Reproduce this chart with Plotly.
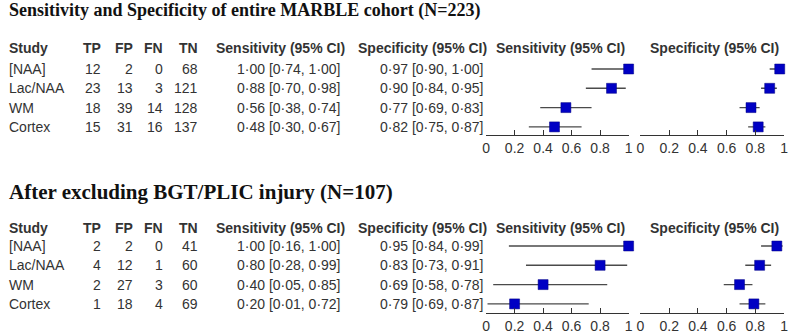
import plotly.graph_objects as go

# ---------------- data ----------------
studies = ["[NAA]", "Lac/NAA", "WM", "Cortex"]

titles = ["Sensitivity and Specificity of entire MARBLE cohort (N=223)",
          "After excluding BGT/PLIC injury (N=107)"]

# Panel 1: entire cohort
tp1 = [12, 23, 18, 15]
fp1 = [2, 13, 39, 31]
fn1 = [0, 3, 14, 16]
tn1 = [68, 121, 128, 137]
sens1 = [1.00, 0.88, 0.56, 0.48]
sens1_lo = [0.74, 0.70, 0.38, 0.30]
sens1_hi = [1.00, 0.98, 0.74, 0.67]
spec1 = [0.97, 0.90, 0.77, 0.82]
spec1_lo = [0.90, 0.84, 0.69, 0.75]
spec1_hi = [1.00, 0.95, 0.83, 0.87]

# Panel 2: excluding BGT/PLIC injury
tp2 = [2, 4, 2, 1]
fp2 = [2, 12, 27, 18]
fn2 = [0, 1, 3, 4]
tn2 = [41, 60, 60, 69]
sens2 = [1.00, 0.80, 0.40, 0.20]
sens2_lo = [0.16, 0.28, 0.05, 0.01]
sens2_hi = [1.00, 0.99, 0.85, 0.72]
spec2 = [0.95, 0.83, 0.69, 0.79]
spec2_lo = [0.84, 0.73, 0.58, 0.69]
spec2_hi = [0.99, 0.91, 0.78, 0.87]

axis_ticks = [0, 0.2, 0.4, 0.6, 0.8, 1]
col_headers = ["Study", "TP", "FP", "FN", "TN",
               "Sensitivity (95% CI)", "Specificity (95% CI)"]
plot_headers = ["Sensitivity (95% CI)", "Specificity (95% CI)"]

# ---------------- layout helpers ----------------
W, H = 791, 334
def X(px): return px / W
def Y(px): return 1 - px / H

TEXT = "#333333"
SANS = "Liberation Sans, Arial, sans-serif"
SERIF = "Liberation Serif, Times New Roman, serif"
MARK = "#0000c4"
LINE = "#4a4a4a"

def fmt(v):
    return f"{v:.2f}".replace(".", "·")

panels = [
    dict(tp=tp1, fp=fp1, fn=fn1, tn=tn1, se=sens1, se_lo=sens1_lo, se_hi=sens1_hi,
         sp=spec1, sp_lo=spec1_lo, sp_hi=spec1_hi, title_size=18,
         title_y=11, header_y=48, row0=69, step=19.3, axis_y=135),
    dict(tp=tp2, fp=fp2, fn=fn2, tn=tn2, se=sens2, se_lo=sens2_lo, se_hi=sens2_hi,
         sp=spec2, sp_lo=spec2_lo, sp_hi=spec2_hi, title_size=21,
         title_y=192, header_y=228, row0=246, step=19.3, axis_y=313),
]

fig = go.Figure()
annotations = []
layout_axes = {}

def ann(text, xpx, ypx, anchor="left", bold=False, size=14, font=SANS, color=TEXT):
    annotations.append(dict(
        text=f"<b>{text}</b>" if bold else text,
        x=X(xpx), y=Y(ypx), xref="paper", yref="paper",
        xanchor=anchor, yanchor="middle", showarrow=False,
        font=dict(family=font, size=size, color=color)))

sens_dom = [X(487), X(631)]
spec_dom = [X(643), X(788)]

ax_i = 0
for p_i, p in enumerate(panels):
    ann(titles[p_i], 3, p["title_y"], bold=True, size=p["title_size"], font=SERIF, color="#111111")
    hy = p["header_y"]
    ann(col_headers[0], 3, hy, bold=True)
    ann(col_headers[1], 100, hy, "right", bold=True)
    ann(col_headers[2], 132, hy, "right", bold=True)
    ann(col_headers[3], 163, hy, "right", bold=True)
    ann(col_headers[4], 198, hy, "right", bold=True)
    ann(col_headers[5], 347, hy, "right", bold=True)
    ann(col_headers[6], 490, hy, "right", bold=True)
    ann(plot_headers[0], (496 + 629) / 2, hy, "center", bold=True)
    ann(plot_headers[1], (653 + 783) / 2, hy, "center", bold=True)

    for r, name in enumerate(studies):
        ry = p["row0"] + r * p["step"]
        ann(name, 3, ry)
        ann(str(p["tp"][r]), 100, ry, "right")
        ann(str(p["fp"][r]), 132, ry, "right")
        ann(str(p["fn"][r]), 163, ry, "right")
        ann(str(p["tn"][r]), 198, ry, "right")
        ann(f"{fmt(p['se'][r])} [{fmt(p['se_lo'][r])}, {fmt(p['se_hi'][r])}]", 342, ry, "right")
        ann(f"{fmt(p['sp'][r])} [{fmt(p['sp_lo'][r])}, {fmt(p['sp_hi'][r])}]", 487, ry, "right")

    # y geometry in row units
    step = p["step"]
    bottom_units = -(len(studies) - 1) - (p["axis_y"] - (p["row0"] + (len(studies) - 1) * step)) / step
    top_units = 0.6
    top_px = p["row0"] - top_units * step
    ydom = [Y(p["axis_y"]), Y(top_px)]
    yvals = [-r for r in range(len(studies))]

    for kind, dom in (("se", sens_dom), ("sp", spec_dom)):
        ax_i += 1
        xs = p[kind]
        lo = p[kind + "_lo"]
        hi = p[kind + "_hi"]
        suffix = "" if ax_i == 1 else str(ax_i)
        fig.add_trace(go.Scatter(
            x=xs, y=yvals, mode="markers",
            xaxis="x" + suffix, yaxis="y" + suffix,
            marker=dict(symbol="square", size=10, color=MARK,
                        line=dict(width=0.5, color="#000080")),
            error_x=dict(type="data", symmetric=False,
                         array=[h - v for h, v in zip(hi, xs)],
                         arrayminus=[v - l for v, l in zip(xs, lo)],
                         color=LINE, thickness=1.4, width=0),
            cliponaxis=False, showlegend=False, hoverinfo="skip"))
        layout_axes["xaxis" + suffix] = dict(
            domain=dom, range=[0, 1], anchor="y" + suffix,
            showline=True, linecolor="#333333", linewidth=1,
            ticks="inside", ticklen=5, tickwidth=1, tickcolor="#333333",
            tickvals=axis_ticks, ticktext=[f"{t:g}" for t in axis_ticks],
            showgrid=False, zeroline=False,
            tickfont=dict(family=SANS, size=14, color=TEXT))
        layout_axes["yaxis" + suffix] = dict(
            domain=ydom, range=[bottom_units, top_units], anchor="x" + suffix,
            visible=False, showgrid=False, zeroline=False)

fig.update_layout(
    width=W, height=H,
    margin=dict(l=0, r=0, t=0, b=0),
    paper_bgcolor="white", plot_bgcolor="white",
    annotations=annotations,
    **layout_axes)

fig.write_html(
    "out.html",
    config={"displayModeBar": False},
    post_script="document.body.style.margin='0';document.body.style.overflow='hidden';")
